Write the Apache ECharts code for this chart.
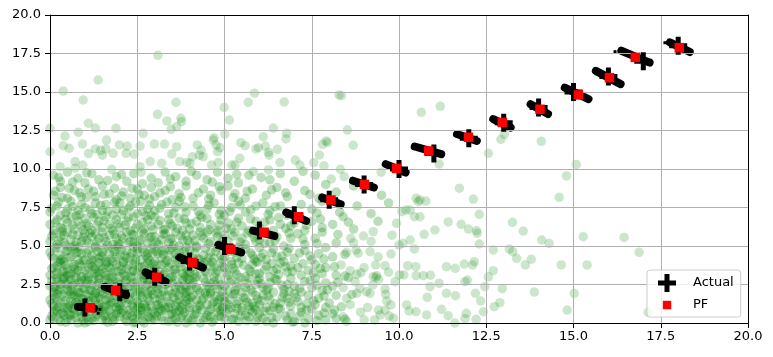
<!DOCTYPE html>
<html><head><meta charset="utf-8">
<script src="https://cdn.jsdelivr.net/npm/echarts@6/dist/echarts.min.js"></script>
<style>html,body{margin:0;padding:0;background:#fff}#c{width:773px;height:357px}</style>
</head><body><div id="c"></div>
<script>
// Actual robot positions
const actualX=[1,2,3,4,5,6,7,8,9,10,11,12,13,14,15,16,17,18];
const actualY=[1,2,3,4,5,6,7,8,9,10,11,12,13,14,15,16,17,18];
// Particle-filter estimates
const pfX=[1.15,1.88,3.06,4.08,5.18,6.13,7.12,8.05,9.01,9.93,10.85,11.99,12.96,14.04,15.14,16.03,16.77,18.03];
const pfY=[0.99,2.10,2.97,3.94,4.78,5.89,6.90,7.99,9.00,10.04,11.17,12.06,13.03,13.88,14.81,15.93,17.25,17.88];
// Resampled particle clouds (streak ends)
const cloudStartX=[0.80,1.57,2.74,3.72,4.82,5.82,6.77,7.80,8.68,9.62,10.45,11.66,12.70,13.77,14.75,15.64,16.37,17.76];
const cloudStartY=[1.06,2.35,3.28,4.26,5.07,6.00,7.18,8.15,9.24,10.32,11.46,12.27,13.24,14.21,15.28,16.37,17.68,18.22];
const cloudEndX=[1.26,2.18,3.31,4.38,5.48,6.43,7.34,8.33,9.28,10.19,11.21,12.23,13.20,14.27,15.43,16.35,17.18,18.33];
const cloudEndY=[0.94,1.82,2.69,3.60,4.58,5.65,6.63,7.71,8.80,9.77,10.96,11.82,12.69,13.57,14.54,15.51,16.91,17.60];
const strayX=[1.43,1.38,3.63,16.19,17.62];
const strayY=[0.89,0.63,4.24,17.62,18.20];
// Initial particles (x,y pairs)
const particlesSparse=[
3.09,17.38,1.38,15.78,0.38,15.06,0.95,14.48,3.61,14.33,5.68,14.33,5.86,14.92,6.71,14.35,8.28,14.81,4.99,14.0,3.08,13.55,5.14,13.18,3.35,13.12,3.75,13.29,3.77,13.07,1.10,12.97,1.30,12.66,1.89,12.64,3.63,12.75,3.47,12.58,0.0,12.64,6.40,12.66,6.78,12.32,6.76,11.95,2.67,12.32,5.01,12.27,0.81,12.38,0.43,12.14,1.62,11.88,4.70,12.03,6.11,12.10,7.91,11.82,7.81,11.6,0.0,11.12,0.38,11.51,0.55,11.34,0.93,11.62,1.3,11.3,1.45,11.2,1.6,11.3,1.1,11.0,1.5,10.9,1.81,11.02,1.99,11.56,2.21,11.49,2.18,11.02,2.41,10.97,2.58,11.49,2.99,11.62,3.28,11.62,3.63,11.45,3.49,10.97,4.22,11.56,4.68,11.88,4.76,11.56,4.87,11.38,4.80,11.12,4.33,11.23,4.28,10.9,4.39,10.8,5.47,11.71,5.59,11.51,5.90,11.30,5.97,11.38,6.17,11.49,6.26,11.08,6.28,10.9,6.51,11.28,7.03,10.58,7.16,10.26,7.56,10.41,7.72,10.91,7.85,10.21,5.44,10.69,6.59,10.43,5.83,9.83,6.26,9.94,2.87,10.48,3.2,10.37,0.72,10.48,0.72,10.05,0.94,10.26,0.29,10.15,1.77,9.98,2.58,10.15,2.61,9.79,3.72,10.48,3.92,10.43,4.01,10.37,4.08,10.8,4.63,10.26,4.82,10.43,5.21,10.26,5.30,10.26,
8.35,14.76,10.64,13.68,11.18,14.07,8.52,12.53,7.95,11.72,8.69,11.54,8.32,9.98,8.06,9.35,8.43,9.5,9.49,9.79,11.15,10.32,12.56,11.02,12.92,11.93,13.02,12.25,14.08,11.8,15.08,10.3,14.8,9.55,
14.59,8.16,11.73,8.75,12.13,8.05,10.6,7.99,10.77,7.92,12.30,7.06,10.6,6.9,11.41,6.56,11.78,6.41,11.99,6.1,12.22,5.99,12.24,5.82,11.03,6.04,10.72,5.76,13.25,6.54,13.56,5.97,14.09,5.39,15.28,5.6,
16.45,5.56,14.3,5.17,12.30,5.13,12.70,4.74,13.16,4.81,13.26,4.63,13.37,4.2,13.62,3.77,13.79,4.14,14.65,3.77,15.39,3.77,13.88,2.01,15.02,1.93,14.82,0.84,16.88,4.59,17.14,0.69,
12.70,3.4,12.56,3.0,12.46,2.36,12.96,2.23,12.89,1.32,12.73,1.06,12.42,0.73,12.34,1.43,12.19,1.93,12.16,3.98,12.11,3.77,11.87,3.83,11.61,3.55,11.36,3.66,11.96,2.79,11.89,2.68,11.36,1.93,11.62,1.77,11.93,0.63,11.89,0.28,12.21,0.24,11.22,0.89,11.41,0.47,11.6,0.0,10.79,0.52,10.49,0.73,10.29,0.78,10.22,1.17,10.81,1.67,10.89,2.36,11.15,2.58,10.14,3.12,10.49,3.07,10.70,3.07,10.90,3.1,10.25,3.72,10.48,3.66,10.01,3.12,10.44,4.81,10.11,5.17,10.32,5.39,10.0,5.06,
9.77,4.48,9.60,3.72,9.33,3.77,9.34,2.97,9.89,2.68,9.62,1.86,9.65,1.43,9.77,1.17,9.60,0.84,9.41,0.84,9.46,0.52,9.72,0.45,9.84,0.31,9.17,4.63,8.98,5.65,9.26,5.93,8.62,5.5,8.50,4.59,8.77,4.74,8.83,4.53,8.34,3.77,8.91,3.27,8.79,3.16,9.26,3.01,9.36,3.07,9.42,2.84,9.25,2.47,8.74,2.68,8.88,2.25,8.79,1.93,9.07,2.03,9.17,1.93,
10.49,8.1,10.55,7.88,10.44,6.9,10.32,7.34,10.2,7.34,10.08,7.23,9.93,6.47,
8.4,0.4,8.6,1.2,8.9,0.7,9.1,1.0,8.5,1.6,9.3,0.2,8.4,2.3,9.6,2.2,9.0,3.6,8.6,3.4,9.7,3.3,9.4,4.3,8.7,5.2,9.2,5.3,9.8,5.7,8.5,0.1,9.0,0.2
];
// Dense lower-left particles (estimated)
const particlesDenseLow=[
0.1,0.3,0.2,0.8,0.3,0.1,0.4,0.5,0.5,0.9,0.6,0.2,0.7,0.6,0.8,0.0,0.9,0.4,0.1,0.7,0.5,0.3,0.7,0.9,0.3,0.6,0.9,0.8,0.0,0.2,0.6,0.5,
1.0,0.6,1.1,0.1,1.2,0.9,1.3,0.4,1.4,0.7,1.5,0.2,1.6,0.5,1.7,0.8,1.8,0.1,1.9,0.6,1.2,0.3,1.5,0.8,1.8,0.4,1.0,0.0,1.6,0.2,1.4,0.9,
2.0,0.4,2.1,0.8,2.2,0.1,2.3,0.6,2.4,0.3,2.5,0.9,2.6,0.5,2.7,0.0,2.8,0.7,2.9,0.2,2.2,0.5,2.6,0.8,2.4,0.0,2.8,0.4,2.0,0.9,2.5,0.6,
3.0,0.2,3.1,0.7,3.2,0.4,3.3,0.9,3.4,0.1,3.5,0.6,3.6,0.3,3.7,0.8,3.8,0.5,3.9,0.0,3.2,0.8,3.5,0.2,3.8,0.9,3.0,0.6,3.6,0.7,
4.0,0.8,4.1,0.3,4.2,0.6,4.3,0.0,4.5,0.5,4.6,0.9,4.7,0.2,4.8,0.7,4.9,0.4,4.4,0.2,4.2,0.9,4.6,0.4,4.9,0.8,
5.0,0.3,5.1,0.9,5.3,0.6,5.4,0.1,5.5,0.8,5.7,0.4,5.8,0.7,5.9,0.1,5.2,0.2,5.6,0.5,5.9,0.9,
6.0,0.6,6.2,0.1,6.3,0.8,6.5,0.4,6.6,0.9,6.8,0.2,6.9,0.6,6.4,0.0,6.1,0.3,
7.0,0.1,7.2,0.7,7.4,0.3,7.5,0.9,7.7,0.5,7.9,0.2,7.3,0.0,8.1,0.6,8.2,0.3,
0.0,1.5,0.1,1.1,0.2,1.9,0.3,1.3,0.4,1.7,0.5,1.0,0.6,1.4,0.7,1.8,0.8,1.2,0.9,1.6,0.2,1.4,0.4,1.0,0.6,1.9,0.8,1.7,0.1,1.8,0.7,1.2,
1.0,1.3,1.1,1.7,1.2,1.0,1.3,1.5,1.4,1.2,1.5,1.9,1.6,1.1,1.7,1.6,1.8,1.3,1.9,1.8,1.1,1.4,1.3,1.9,1.6,1.5,1.9,1.0,1.4,1.7,1.7,1.2,
2.0,1.1,2.1,1.6,2.2,1.3,2.3,1.9,2.4,1.0,2.5,1.4,2.6,1.8,2.7,1.2,2.8,1.6,2.9,1.1,2.1,1.9,2.3,1.5,2.6,1.0,2.8,1.9,2.0,1.7,2.5,1.1,
3.0,1.6,3.1,1.2,3.2,1.8,3.3,1.0,3.4,1.4,3.5,1.9,3.6,1.1,3.7,1.5,3.8,1.2,3.9,1.7,3.1,1.9,3.4,1.0,3.7,1.8,3.2,1.3,3.9,1.4,
4.0,1.3,4.1,1.8,4.3,1.1,4.4,1.6,4.5,1.2,4.6,1.9,4.7,1.4,4.8,1.0,4.9,1.7,4.2,1.5,4.5,1.8,4.8,1.3,4.0,1.0,
5.0,1.7,5.1,1.2,5.3,1.9,5.4,1.4,5.5,1.0,5.6,1.6,5.8,1.3,5.9,1.8,5.2,1.0,5.7,1.1,5.0,1.4,
6.0,1.2,6.1,1.8,6.3,1.5,6.4,1.0,6.6,1.3,6.7,1.9,6.9,1.1,6.2,1.0,6.8,1.6,
7.1,1.4,7.2,1.0,7.4,1.8,7.6,1.2,7.7,1.6,7.9,1.0,7.0,1.9,8.0,1.3,8.2,1.8,
0.0,2.4,0.1,2.0,0.2,2.7,0.3,2.2,0.4,2.9,0.5,2.5,0.6,2.1,0.7,2.6,0.8,2.3,0.9,2.8,0.3,2.5,0.6,2.8,0.1,2.3,0.8,2.0,0.5,2.2,0.2,2.9,
1.0,2.2,1.1,2.8,1.2,2.5,1.3,2.0,1.4,2.6,1.5,2.3,1.6,2.9,1.7,2.1,1.8,2.7,1.9,2.4,1.2,2.1,1.4,2.9,1.6,2.2,1.8,2.4,1.0,2.8,1.7,2.6,
2.0,2.5,2.1,2.1,2.2,2.8,2.3,2.4,2.4,2.0,2.5,2.7,2.6,2.2,2.7,2.9,2.8,2.5,2.9,2.1,2.2,2.3,2.4,2.6,2.6,2.0,2.8,2.8,2.0,2.0,
3.0,2.7,3.1,2.2,3.2,2.9,3.3,2.5,3.4,2.1,3.5,2.6,3.6,2.0,3.7,2.4,3.8,2.8,3.9,2.3,3.1,2.5,3.4,2.8,3.6,2.3,3.9,2.0,
4.0,2.1,4.1,2.6,4.2,2.3,4.4,2.9,4.5,2.4,4.6,2.0,4.7,2.7,4.8,2.2,4.9,2.5,4.3,2.0,4.6,2.6,4.0,2.8,
5.0,2.4,5.2,2.8,5.3,2.1,5.4,2.6,5.6,2.3,5.7,2.9,5.8,2.0,5.9,2.5,5.1,2.1,5.5,2.0,
6.0,2.9,6.1,2.3,6.3,2.6,6.4,2.0,6.5,2.8,6.7,2.2,6.8,2.5,6.9,2.9,6.2,2.1,
7.0,2.4,7.2,2.0,7.3,2.7,7.5,2.3,7.6,2.9,7.8,2.1,7.9,2.6,8.1,2.4
];
const particlesDenseMid=[
0.0,3.1,0.1,3.6,0.2,3.3,0.3,3.9,0.4,3.0,0.5,3.5,0.6,3.2,0.7,3.8,0.8,3.4,0.9,3.0,0.2,3.7,0.5,3.1,0.7,3.5,0.9,3.7,0.4,3.4,
1.0,3.4,1.1,3.0,1.2,3.7,1.3,3.2,1.4,3.9,1.5,3.5,1.6,3.1,1.7,3.6,1.8,3.3,1.9,3.8,1.1,3.6,1.4,3.3,1.6,3.8,1.8,3.0,1.3,3.5,
2.0,3.7,2.1,3.2,2.2,3.5,2.3,3.0,2.4,3.8,2.5,3.3,2.6,3.6,2.7,3.1,2.8,3.9,2.9,3.4,2.1,3.9,2.4,3.4,2.7,3.7,2.0,3.0,
3.0,3.5,3.1,3.1,3.2,3.8,3.3,3.3,3.4,3.6,3.5,3.0,3.6,3.5,3.7,3.9,3.8,3.2,3.9,3.6,3.3,3.9,3.6,3.2,3.9,3.0,
4.0,3.3,4.1,3.8,4.2,3.0,4.3,3.5,4.5,3.2,4.6,3.7,4.7,3.0,4.8,3.4,4.9,3.9,4.4,3.9,4.7,3.6,
5.0,3.6,5.1,3.1,5.3,3.4,5.4,3.9,5.6,3.0,5.7,3.5,5.9,3.2,5.2,3.8,5.8,3.8,
6.0,3.2,6.2,3.7,6.3,3.0,6.5,3.5,6.6,3.9,6.8,3.3,6.9,3.7,6.4,3.4,
7.1,3.6,7.2,3.1,7.4,3.4,7.6,3.8,7.8,3.2,7.9,3.6,8.2,3.1,
0.0,4.6,0.1,4.2,0.2,4.9,0.3,4.4,0.4,4.0,0.5,4.7,0.6,4.3,0.7,4.8,0.8,4.1,0.9,4.5,0.3,4.1,0.6,4.9,0.8,4.6,
1.0,4.1,1.1,4.7,1.2,4.4,1.3,4.9,1.4,4.2,1.5,4.6,1.6,4.0,1.7,4.5,1.8,4.8,1.9,4.3,1.2,4.1,1.5,4.3,1.8,4.0,
2.0,4.4,2.1,4.0,2.2,4.7,2.3,4.3,2.4,4.9,2.5,4.5,2.6,4.1,2.7,4.6,2.8,4.2,2.9,4.8,2.2,4.2,2.5,4.8,2.8,4.5,
3.0,4.0,3.1,4.5,3.2,4.2,3.3,4.8,3.4,4.4,3.5,4.9,3.6,4.1,3.7,4.6,3.8,4.3,3.9,4.9,3.2,4.7,3.6,4.5,
4.0,4.7,4.1,4.2,4.2,4.9,4.4,4.4,4.5,4.0,4.6,4.6,4.7,4.2,4.8,4.9,4.9,4.4,4.3,4.1,
5.0,4.3,5.2,4.0,5.3,4.6,5.5,4.2,5.6,4.8,5.8,4.4,5.9,4.0,5.4,4.9,
6.1,4.5,6.2,4.1,6.4,4.8,6.5,4.3,6.7,4.0,6.8,4.6,6.0,4.9,
7.0,4.2,7.3,4.7,7.5,4.1,7.7,4.5,7.9,4.9,8.1,4.3,
0.0,5.3,0.1,5.8,0.2,5.1,0.3,5.6,0.4,5.2,0.5,5.9,0.6,5.4,0.7,5.0,0.8,5.7,0.9,5.3,0.4,5.7,
1.0,5.8,1.1,5.2,1.2,5.6,1.3,5.0,1.4,5.5,1.5,5.9,1.6,5.3,1.7,5.7,1.8,5.1,1.9,5.5,1.3,5.8,
2.0,5.1,2.1,5.5,2.2,5.9,2.3,5.3,2.4,5.7,2.5,5.0,2.6,5.4,2.7,5.8,2.8,5.2,2.9,5.6,2.4,5.2,
3.0,5.6,3.1,5.1,3.2,5.4,3.3,5.8,3.4,5.2,3.5,5.5,3.6,5.9,3.7,5.0,3.8,5.4,3.9,5.7,
4.0,5.2,4.1,5.7,4.2,5.0,4.4,5.5,4.5,5.9,4.6,5.3,4.8,5.6,4.9,5.1,4.3,5.9,
5.0,5.7,5.1,5.3,5.3,5.9,5.5,5.5,5.6,5.1,5.8,5.8,5.9,5.3,
6.0,5.4,6.2,5.9,6.3,5.2,6.5,5.6,6.7,5.0,6.9,5.5,
7.1,5.8,7.3,5.1,7.6,5.5,7.8,5.9,8.2,5.2
];
const particlesDenseHigh=[
0.0,6.4,0.1,6.0,0.2,6.7,0.3,6.2,0.5,6.5,0.6,6.9,0.7,6.1,0.8,6.6,0.9,6.3,
1.0,6.8,1.1,6.3,1.2,6.0,1.4,6.6,1.5,6.2,1.6,6.9,1.7,6.4,1.8,6.0,1.9,6.7,
2.0,6.2,2.2,6.6,2.3,6.0,2.4,6.9,2.5,6.4,2.7,6.1,2.8,6.7,2.9,6.3,
3.0,6.9,3.1,6.4,3.3,6.1,3.4,6.7,3.5,6.3,3.7,6.8,3.8,6.0,3.9,6.5,
4.0,6.1,4.2,6.6,4.3,6.2,4.5,6.8,4.6,6.4,4.8,6.0,4.9,6.7,
5.1,6.5,5.2,6.1,5.4,6.8,5.5,6.3,5.7,6.0,5.9,6.6,
6.0,6.2,6.3,6.7,6.4,6.0,6.6,6.4,6.9,6.3,
7.0,6.5,7.3,6.0,7.5,6.6,7.8,6.2,8.1,6.4,8.4,6.9,8.7,6.1,9.4,6.6,
0.0,7.2,0.2,7.6,0.3,7.0,0.5,7.4,0.6,7.9,0.8,7.3,0.9,7.7,
1.0,7.5,1.2,7.1,1.3,7.8,1.5,7.3,1.6,7.7,1.8,7.0,1.9,7.4,
2.0,7.8,2.1,7.3,2.3,7.6,2.5,7.1,2.6,7.9,2.8,7.4,2.9,7.0,
3.0,7.3,3.2,7.7,3.4,7.1,3.6,7.5,3.7,7.9,3.9,7.2,
4.1,7.6,4.3,7.0,4.5,7.4,4.7,7.8,4.9,7.3,
5.0,7.0,5.2,7.5,5.4,7.9,5.6,7.2,5.9,7.6,
6.1,7.8,6.3,7.3,6.6,7.6,6.8,7.0,
7.2,7.7,7.5,7.4,7.8,7.9,8.3,7.2,8.8,7.6,9.2,7.1,9.7,7.8,
0.1,8.3,0.3,8.8,0.5,8.1,0.7,8.6,0.9,8.2,
1.1,8.7,1.3,8.2,1.5,8.9,1.7,8.4,1.9,8.0,
2.1,8.5,2.3,8.1,2.5,8.7,2.7,8.3,2.9,8.8,
3.0,8.2,3.3,8.6,3.5,8.0,3.7,8.4,3.9,8.9,
4.1,8.1,4.4,8.7,4.6,8.3,4.9,8.6,
5.1,8.9,5.3,8.4,5.6,8.1,5.8,8.7,
6.2,8.3,6.5,8.8,6.8,8.2,7.3,8.6,7.7,8.1,8.2,8.5,8.7,8.9,9.5,8.3,
0.1,9.6,0.3,9.2,0.5,9.8,0.8,9.4,1.0,9.1,1.2,9.7,1.4,9.3,1.9,9.5,2.2,9.2,2.4,9.7,2.9,9.4,3.1,9.1,3.3,9.8,
3.6,9.5,3.9,9.2,4.2,9.6,4.5,9.3,4.8,9.8,5.1,9.4,5.4,9.1,5.7,9.6,6.3,9.3,6.6,9.7,7.0,9.2,7.6,9.6,7.9,9.0
];
// Second layer of dense particles (estimated)
const particlesDenseExtra=[
0.05,0.45,0.15,0.85,0.25,0.25,0.35,0.65,0.45,0.05,0.55,0.55,0.65,0.95,0.75,0.35,0.85,0.75,0.95,0.15,
1.05,0.35,1.15,0.75,1.25,0.15,1.35,0.55,1.45,0.95,1.55,0.45,1.65,0.05,1.75,0.65,1.85,0.25,1.95,0.85,
2.05,0.65,2.15,0.25,2.25,0.85,2.35,0.45,2.45,0.05,2.55,0.55,2.65,0.15,2.75,0.95,2.85,0.35,2.95,0.75,
3.05,0.45,3.15,0.95,3.25,0.15,3.45,0.55,3.55,0.85,3.65,0.05,3.75,0.35,3.85,0.65,3.95,0.25,
4.05,0.15,4.15,0.55,4.35,0.85,4.45,0.35,4.55,0.75,4.65,0.05,4.85,0.45,4.95,0.95,
5.05,0.65,5.25,0.25,5.35,0.95,5.45,0.45,5.65,0.15,5.75,0.85,5.95,0.35,
6.15,0.75,6.35,0.35,6.55,0.95,6.75,0.45,6.95,0.05,7.15,0.45,7.35,0.85,7.65,0.15,7.85,0.65,8.15,0.85,8.45,0.25,
0.05,1.25,0.15,1.65,0.25,1.05,0.35,1.85,0.45,1.45,0.55,1.15,0.65,1.75,0.75,1.35,0.85,1.95,0.95,1.55,
1.05,1.85,1.15,1.45,1.25,1.65,1.35,1.15,1.45,1.55,1.55,1.05,1.65,1.85,1.75,1.35,1.85,1.75,1.95,1.25,
2.05,1.35,2.15,1.95,2.25,1.55,2.35,1.15,2.45,1.75,2.55,1.25,2.65,1.65,2.75,1.05,2.85,1.45,2.95,1.85,
3.05,1.15,3.15,1.55,3.35,1.75,3.45,1.25,3.55,1.65,3.65,1.35,3.75,1.05,3.85,1.95,3.95,1.55,
4.05,1.65,4.25,1.15,4.35,1.45,4.45,1.95,4.65,1.25,4.75,1.75,4.85,1.55,4.95,1.05,
5.15,1.55,5.25,1.85,5.35,1.25,5.55,1.65,5.65,1.35,5.85,1.05,5.95,1.55,
6.05,1.45,6.25,1.75,6.45,1.25,6.65,1.65,6.85,1.35,7.05,1.65,7.35,1.25,7.55,1.45,7.85,1.75,8.35,1.05,8.65,1.85,
0.05,2.75,0.15,2.35,0.25,2.15,0.35,2.85,0.45,2.55,0.55,2.05,0.65,2.45,0.75,2.95,0.85,2.65,0.95,2.25,
1.05,2.55,1.15,2.15,1.25,2.85,1.35,2.45,1.45,2.05,1.55,2.75,1.65,2.35,1.75,2.95,1.85,2.15,1.95,2.65,
2.05,2.25,2.15,2.65,2.35,2.95,2.45,2.35,2.55,2.15,2.65,2.75,2.75,2.45,2.85,2.05,2.95,2.55,
3.05,2.35,3.15,2.75,3.25,2.05,3.35,2.55,3.45,2.95,3.65,2.65,3.75,2.15,3.85,2.45,3.95,2.85,
4.05,2.45,4.15,2.95,4.25,2.15,4.45,2.65,4.55,2.25,4.75,2.45,4.85,2.85,4.95,2.05,
5.15,2.65,5.35,2.35,5.45,2.95,5.65,2.55,5.75,2.15,5.95,2.75,
6.05,2.55,6.25,2.25,6.45,2.85,6.65,2.45,6.85,2.05,7.15,2.25,7.45,2.75,7.65,2.45,7.95,2.15,8.25,2.65,8.55,2.95,
0.05,3.55,0.15,3.15,0.25,3.95,0.35,3.35,0.45,3.75,0.55,3.05,0.65,3.65,0.75,3.25,0.85,3.85,
1.05,3.15,1.15,3.85,1.25,3.45,1.35,3.05,1.45,3.65,1.55,3.25,1.65,3.95,1.75,3.55,1.95,3.35,
2.05,3.45,2.15,3.05,2.25,3.75,2.35,3.35,2.45,3.95,2.55,3.65,2.65,3.15,2.85,3.55,2.95,3.85,
3.05,3.75,3.15,3.35,3.25,3.15,3.45,3.85,3.55,3.45,3.75,3.65,3.85,3.05,3.95,3.35,
4.05,3.55,4.15,3.15,4.35,3.75,4.45,3.35,4.65,3.95,4.75,3.25,4.95,3.65,
5.05,3.25,5.25,3.55,5.35,3.15,5.55,3.75,5.75,3.35,5.95,3.95,
6.15,3.45,6.35,3.85,6.55,3.15,6.75,3.65,6.95,3.35,7.25,3.85,7.55,3.25,7.75,3.55,8.15,3.65,8.45,3.05,
0.05,4.35,0.15,4.85,0.35,4.15,0.45,4.65,0.55,4.25,0.75,4.55,0.85,4.95,0.95,4.05,
1.05,4.55,1.25,4.05,1.35,4.65,1.45,4.35,1.55,4.85,1.75,4.15,1.85,4.65,1.95,4.95,
2.05,4.75,2.15,4.35,2.35,4.55,2.45,4.15,2.65,4.85,2.75,4.35,2.85,4.05,2.95,4.55,
3.05,4.65,3.25,4.45,3.35,4.05,3.45,4.75,3.65,4.25,3.85,4.65,3.95,4.15,
4.15,4.55,4.25,4.15,4.45,4.85,4.55,4.25,4.75,4.65,4.95,4.15,
5.15,4.65,5.35,4.25,5.45,4.75,5.75,4.55,5.85,4.15,6.05,4.25,6.35,4.55,6.65,4.35,6.85,4.85,
7.15,4.55,7.45,4.35,7.85,4.15,8.45,4.45,
0.05,5.65,0.25,5.35,0.35,5.95,0.45,5.05,0.65,5.75,0.75,5.25,0.95,5.55,
1.05,5.35,1.15,5.85,1.35,5.25,1.55,5.55,1.65,5.05,1.85,5.75,1.95,5.15,
2.05,5.65,2.25,5.25,2.35,5.75,2.55,5.35,2.65,5.95,2.85,5.55,2.95,5.05,
3.05,5.25,3.25,5.75,3.45,5.45,3.55,5.05,3.75,5.65,3.95,5.35,
4.15,5.35,4.35,5.65,4.55,5.15,4.75,5.85,4.95,5.45,5.25,5.65,5.45,5.25,5.65,5.85,5.85,5.55,
6.15,5.15,6.45,5.35,6.85,5.85,7.25,5.45,7.65,5.15,8.25,5.75,
0.15,6.55,0.35,6.15,0.45,6.75,0.65,6.35,0.75,6.95,0.95,6.05,
1.05,6.45,1.25,6.85,1.35,6.35,1.55,6.65,1.75,6.15,1.95,6.45,
2.15,6.35,2.25,6.85,2.45,6.15,2.65,6.55,2.75,6.95,2.95,6.05,
3.15,6.65,3.25,6.05,3.45,6.45,3.65,6.15,3.85,6.75,4.05,6.45,4.35,6.85,4.55,6.05,4.85,6.35,
5.05,6.15,5.35,6.55,5.75,6.75,6.15,6.55,6.55,6.85,6.75,6.15,7.35,6.35,7.75,6.75,8.55,6.55,
0.05,7.45,0.25,7.85,0.45,7.15,0.65,7.55,0.85,7.05,1.15,7.35,1.35,7.05,1.45,7.65,1.65,7.25,1.85,7.85,
2.05,7.05,2.25,7.45,2.45,7.85,2.65,7.25,2.85,7.65,3.15,7.45,3.35,7.85,3.55,7.15,3.85,7.55,
4.25,7.25,4.55,7.65,4.85,7.05,5.15,7.25,5.45,7.65,5.75,7.35,6.25,7.05,6.45,7.55,7.65,7.15,
0.15,8.55,0.35,8.15,0.55,8.75,0.85,8.45,1.05,8.15,1.25,8.55,1.55,8.35,1.85,8.75,
2.05,8.25,2.35,8.75,2.55,8.35,2.85,8.05,3.15,8.45,3.45,8.85,3.75,8.15,
4.25,8.45,4.55,8.05,4.85,8.85,5.25,8.15,5.65,8.55,6.35,8.65,6.75,8.45,7.45,8.35,
0.25,9.45,0.65,9.15,1.05,9.75,1.65,9.25,2.05,9.65,2.65,9.05,3.45,9.35,4.05,9.85,4.65,9.15,5.35,9.65,6.05,9.45,7.25,9.85
];

function pairs(flat){const out=[];for(let i=0;i<flat.length;i+=2)out.push([flat[i],flat[i+1]]);return out;}
function zip(a,b){return a.map((v,i)=>[v,b[i]]);}

const FONT='DejaVu Sans';
const plusPath='path://M6.5,0H11.5V6.5H18V11.5H11.5V18H6.5V11.5H0V6.5H6.5Z';
const legendSquare='path://M0,0M18,18M4.8,4.8H13.2V13.2H4.8Z';

const denseData=[].concat(pairs(particlesDenseLow),pairs(particlesDenseMid),pairs(particlesDenseHigh),pairs(particlesDenseExtra));

const series=[{
  name:'particles',type:'scatter',data:pairs(particlesSparse),symbol:'circle',symbolSize:9.5,
  itemStyle:{color:'#008000',opacity:0.2},z:-2,silent:true,clip:true,large:false
},{
  name:'particlesDense',type:'scatter',data:denseData,symbol:'circle',symbolSize:9.5,
  itemStyle:{color:'#008000',opacity:0.27},z:-2,silent:true,clip:true,large:false
}];
for(let i=0;i<cloudStartX.length;i++){
  series.push({type:'line',data:[[cloudStartX[i],cloudStartY[i]],[cloudEndX[i],cloudEndY[i]]],
    symbol:'none',silent:true,z:-1,lineStyle:{color:'#000',width:8,cap:'round',opacity:1}});
}
series.push({type:'scatter',data:zip(strayX,strayY),symbol:'rect',symbolSize:3,itemStyle:{color:'#000',opacity:1},z:-1,silent:true});
series.push({name:'Actual',type:'scatter',data:zip(actualX,actualY),symbol:plusPath,symbolSize:18,itemStyle:{color:'#000',opacity:1},z:3});
series.push({name:'PF',type:'scatter',data:zip(pfX,pfY),symbol:'rect',symbolSize:9.5,itemStyle:{color:'#ff0000',opacity:1},z:4});

const axisLabel={fontFamily:FONT,fontSize:13,color:'#000'};
const option={
  animation:false,
  grid:{left:50,right:25,top:15,bottom:34,containLabel:false},
  xAxis:[{type:'value',min:0,max:20,interval:2.5,position:'bottom',
    axisLine:{show:true,onZero:false,lineStyle:{color:'#000',width:1}},
    axisTick:{show:true,length:5,lineStyle:{color:'#000',width:1}},
    axisLabel:Object.assign({margin:7,formatter:v=>v.toFixed(1)},axisLabel),
    splitLine:{show:true,showMinLine:false,showMaxLine:false,lineStyle:{color:'#b0b0b0',width:1}}},
    {type:'value',min:0,max:20,position:'top',axisLine:{show:true,onZero:false,lineStyle:{color:'#000',width:1}},
    axisTick:{show:false},axisLabel:{show:false},splitLine:{show:false}}],
  yAxis:[{type:'value',min:0,max:20,interval:2.5,position:'left',
    axisLine:{show:true,onZero:false,lineStyle:{color:'#000',width:1}},
    axisTick:{show:true,length:5,lineStyle:{color:'#000',width:1}},
    axisLabel:Object.assign({margin:9,formatter:v=>v.toFixed(1)},axisLabel),
    splitLine:{show:true,showMinLine:false,showMaxLine:false,lineStyle:{color:'#b0b0b0',width:1}}},
    {type:'value',min:0,max:20,position:'right',axisLine:{show:true,onZero:false,lineStyle:{color:'#000',width:1}},
    axisTick:{show:false},axisLabel:{show:false},splitLine:{show:false}}],
  legend:{orient:'vertical',left:647,top:270,itemWidth:18,itemHeight:18,itemGap:4,
    padding:[4,7,3,11],borderColor:'#cccccc',borderWidth:1,borderRadius:3,backgroundColor:'rgba(255,255,255,0.8)',
    selectedMode:false,
    textStyle:{fontFamily:FONT,fontSize:13,color:'#000',padding:[0,0,0,12]},
    data:[{name:'Actual',icon:plusPath},{name:'PF',icon:legendSquare}]},
  series:series
};
const chart=echarts.init(document.getElementById('c'),null,{renderer:'canvas'});
chart.setOption(option);
</script></body></html>
